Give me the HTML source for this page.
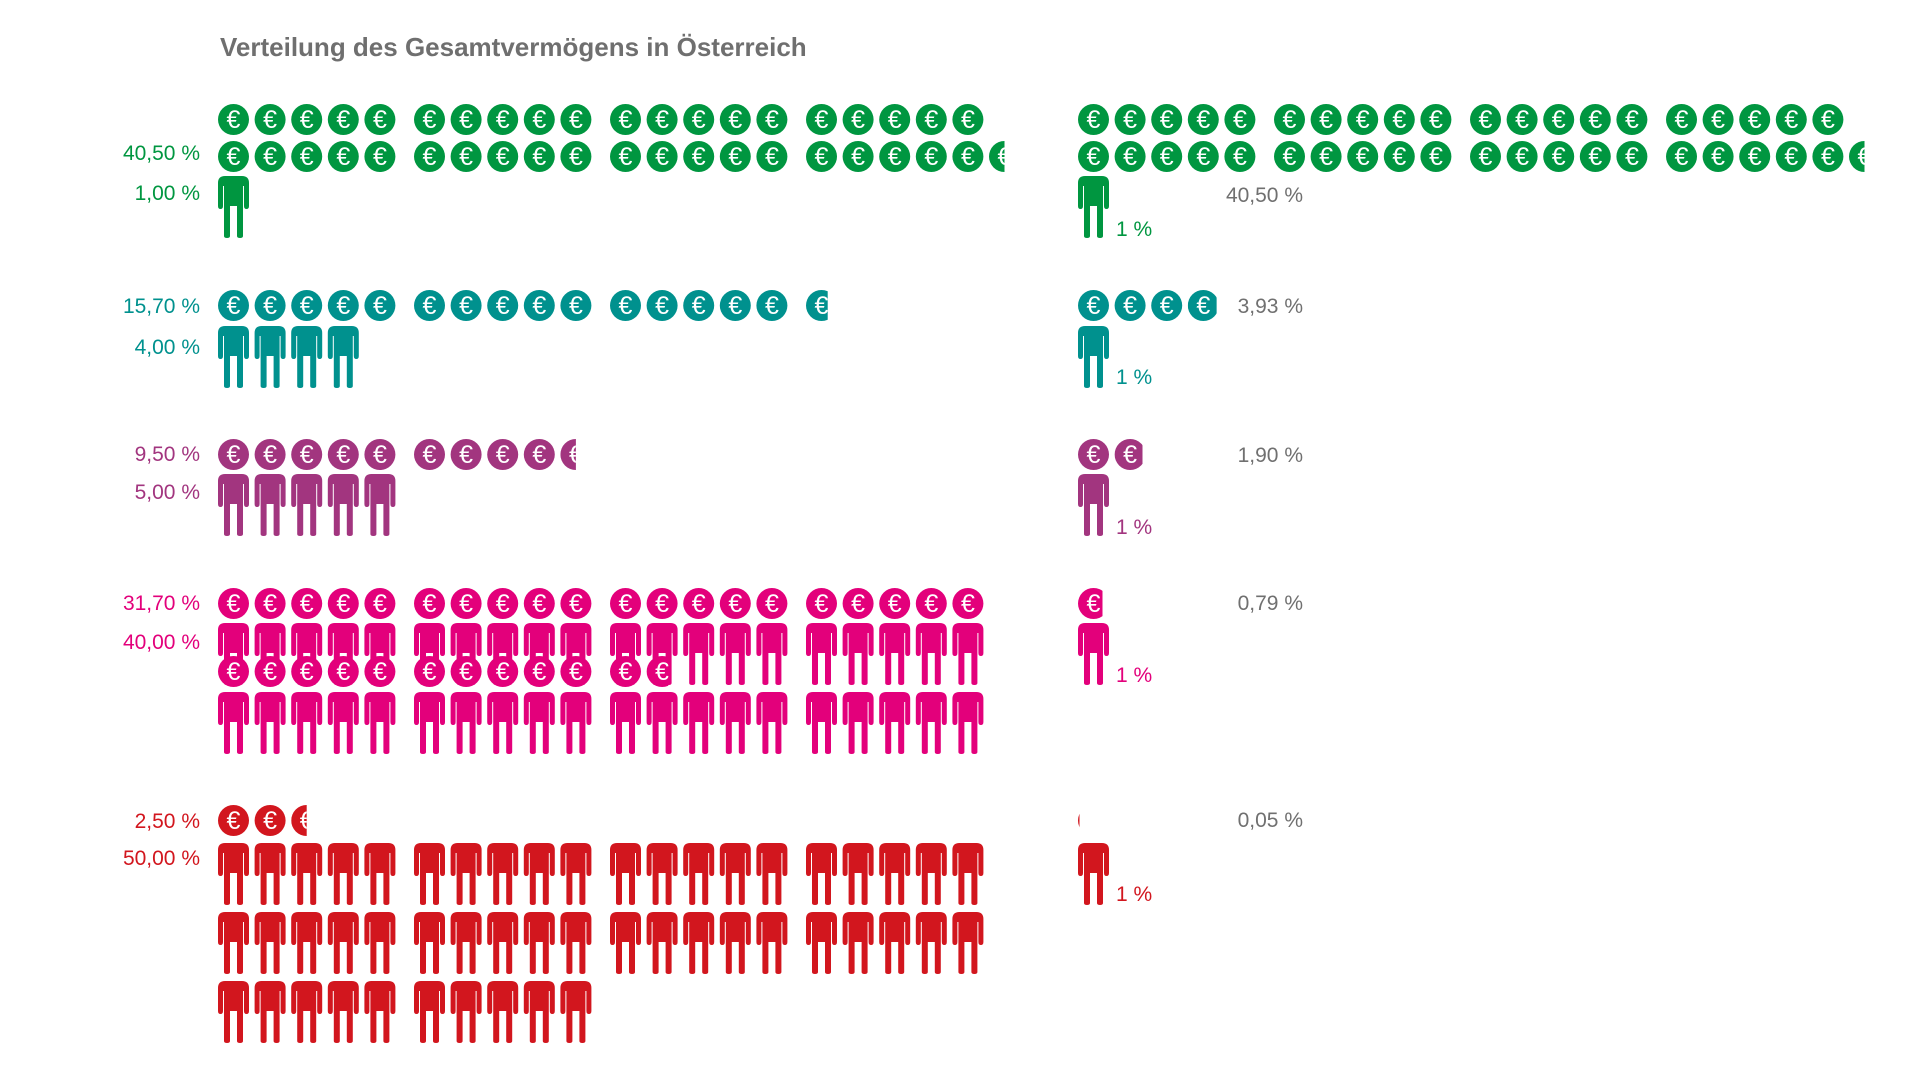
<!DOCTYPE html>
<html><head><meta charset="utf-8">
<style>
html,body{margin:0;padding:0;background:#fff;width:1920px;height:1080px;overflow:hidden}
svg{position:absolute;left:0;top:0}
text{font-family:"Liberation Sans",sans-serif}
</style></head><body>
<svg id="s" width="1920" height="1080" xmlns="http://www.w3.org/2000/svg">
<defs>
<g id="person">
<path d="M0,7 Q0,0 7,0 L24,0 Q31,0 31,7 L31,30 Q31,33 28.5,33 Q26,33 26,30 L26,10 L25,10 L25,60 Q25,62 22,62 Q19,62 19,60 L19,30 L12,30 L12,60 Q12,62 9,62 Q6,62 6,60 L6,10 L5,10 L5,30 Q5,33 2.5,33 Q0,33 0,30 Z"/>
<rect x="15.2" y="30" width="0.6" height="32" fill="#fff"/>
</g>
</defs>
<text x="220" y="56" font-size="26" font-weight="bold" fill="#6f6f6f">Verteilung des Gesamtvermögens in Österreich</text>
</svg>
<script>
const s=document.getElementById('s');const NS='http://www.w3.org/2000/svg';
let cid=0;const CP=36.6,GP=196;
function el(t,a,p){const e=document.createElementNS(NS,t);for(const k in a)e.setAttribute(k,a[k]);(p||s).appendChild(e);return e;}
function colX(x0,k){if(k>19)return colX(x0,19)+CP*(k-19);return x0+Math.floor(k/5)*GP+(k%5)*CP;}
function coin(x,y,c,frac){
  let g=el('g',{});
  if(frac<1){const id='c'+(cid++);const cp=el('clipPath',{id:id});el('rect',{x:x,y:y-2,width:31*frac,height:36},cp);g.setAttribute('clip-path','url(#'+id+')');}
  el('circle',{cx:x+15.5,cy:y+15.5,r:15.5,fill:c},g);
  const t=el('text',{x:x+15.5,y:y+24,'font-size':25,fill:'#fff','text-anchor':'middle'},g);t.textContent='€';
}
function coins(x0,y,c,n,pitch){
  let full=Math.floor(n+1e-9),fr=n-full,tot=Math.ceil(n-1e-9);
  for(let i=0;i<tot;i++){
    let r=Math.floor(i/20),k=i%20;
    if(full>=20&&full%20===0&&i>=full){r=full/20-1;k=i-r*20;}
    coin(colX(x0,k),y+r*pitch,c,i<full?1:fr);
  }
}
function persons(x0,y,c,n,rowPitch){
  for(let i=0;i<n;i++){let r=Math.floor(i/20),k=i%20;el('use',{href:'#person',x:colX(x0,k),y:y+r*rowPitch,fill:c});}
}
function txt(x,y,str,c,anchor){const t=el('text',{x:x,y:y+8,'font-size':21,fill:c,'text-anchor':anchor||'end'});t.textContent=str;}
const L=218,R=1078;
const rows=[
 {c:'#009640',cy:104,cp:37,cl:40.5,cr:40.5,py:176,pn:1,l1:'40,50 %',l1y:152,l2:'1,00 %',l2y:192,g:'40,50 %',gy:194,oy:228},
 {c:'#00918e',cy:290,cp:37,cl:15.7,cr:3.93,py:326,pn:4,l1:'15,70 %',l1y:305,l2:'4,00 %',l2y:346,g:'3,93 %',gy:305,oy:376},
 {c:'#a2357f',cy:439,cp:37,cl:9.5,cr:1.9,py:474,pn:5,l1:'9,50 %',l1y:453,l2:'5,00 %',l2y:491,g:'1,90 %',gy:454,oy:526},
 {c:'#e3007b',cy:588,cp:68,cl:31.7,cr:0.79,py:623,pn:40,l1:'31,70 %',l1y:602,l2:'40,00 %',l2y:641,g:'0,79 %',gy:602,oy:674},
 {c:'#d2161e',cy:805,cp:68,cl:2.5,cr:0.05,py:843,pn:50,l1:'2,50 %',l1y:820,l2:'50,00 %',l2y:857,g:'0,05 %',gy:819,oy:893},
];
for(const r of rows){
  persons(L,r.py,r.c,r.pn,69);
  el('use',{href:'#person',x:R,y:r.py,fill:r.c});
  coins(L,r.cy,r.c,r.cl,r.cp);
  coins(R,r.cy,r.c,r.cr,r.cp);
  txt(200,r.l1y,r.l1,r.c);txt(200,r.l2y,r.l2,r.c);
  txt(1303,r.gy,r.g,'#707070');
  txt(1116,r.oy,'1 %',r.c,'start');
}
</script>
</body></html>
